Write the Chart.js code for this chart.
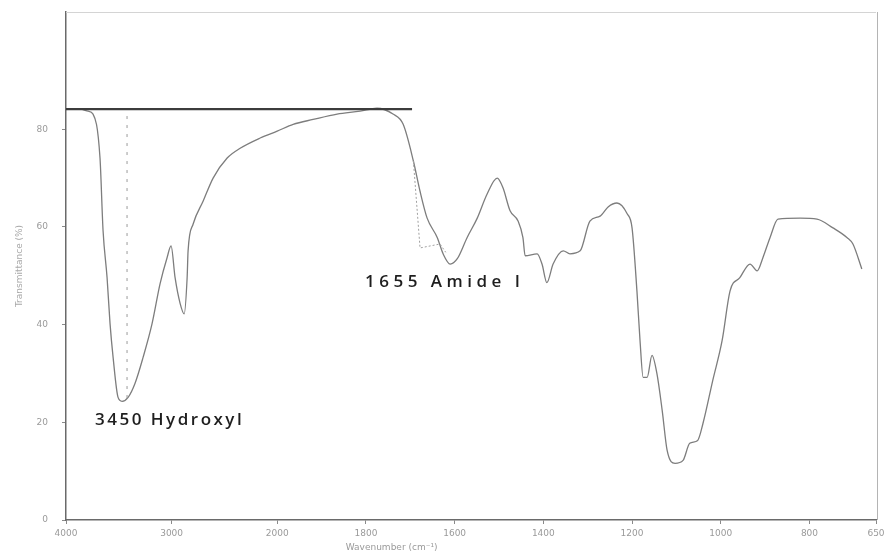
<!DOCTYPE html>
<html>
<head>
<meta charset="utf-8">
<script src="https://cdn.jsdelivr.net/npm/chart.js@4"></script>
<style>
  html, body { margin: 0; padding: 0; background: #fff; }
  #box { width: 885px; height: 560px; }
</style>
</head>
<body>
<div id="box"><canvas id="canva"></canvas></div>
<script>
// Datos del espectro (numero de onda en cm-1, transmitancia en %)
const numOnda = [4000,3867,3791,3744,3678,3649,3611,3583,3554,3507,3469,3412,3346,3270,3185,3109,3043,3005,2967,2919,2881,2853,2844,2796,2701,2607,2474,2351,2161,2000,1964,1919,1865,1813,1775,1739,1716,1693,1678,1662,1639,1626,1610,1594,1572,1549,1527,1504,1491,1475,1457,1446,1441,1414,1403,1392,1378,1355,1340,1317,1295,1272,1254,1234,1211,1200,1189,1182,1175,1166,1155,1144,1132,1121,1103,1085,1070,1052,1040,1018,997,979,957,934,918,905,889,871,821,783,747,715,702,682];
const transmitancia = [84.1,84.1,83.7,83.1,74.1,59.2,49.6,40.2,33.3,25.1,24.3,25.1,28.0,33.3,40.2,48.4,53.7,56.1,49.6,44.3,42.2,49.6,55.1,60.6,65.3,70.0,74.1,76.1,78.2,79.6,81.0,82.0,83.1,83.7,84.3,83.1,81.0,73.5,67.3,61.8,57.8,54.5,52.4,53.5,57.8,61.8,66.7,70.0,68.0,63.3,61.2,57.8,54.1,54.5,52.4,48.6,52.4,55.1,54.5,55.1,61.2,62.2,64.1,64.9,62.7,59.8,46.9,36.7,29.2,29.2,33.7,30.0,22.4,14.3,11.6,12.2,15.7,16.3,19.8,28.6,36.7,46.9,49.6,52.4,51.0,53.7,57.8,61.6,61.8,61.6,59.8,57.8,56.5,51.4];

// Linea base dibujada sobre el espectro
const baseOnda = [4000, 1696];
const baseTrans = [84.1, 84.1];

// Curva punteada (ajuste) cerca de la amida I
const ajusteOnda = [1693, 1678, 1633, 1620];
const ajusteTrans = [73.5, 55.7, 56.5, 54.8];

// Marca vertical en el hidroxilo
const marcaOnda = [3422, 3422];
const marcaTrans = [82.7, 24.5];

// Etiquetas del eje x (escala cambia en 2000 cm-1)
const ticksX = [4000, 3000, 2000, 1800, 1600, 1400, 1200, 1000, 800, 650];
const ticksY = [0, 20, 40, 60, 80];

// Anotaciones
const notas = [
  { texto: "3450 Hydroxyl", onda: 3725, trans: 20.4, espacio: 2.5 },
  { texto: "1655 Amide I", onda: 1802, trans: 48.6, espacio: 4.5 }
];

// El eje x esta expandido por debajo de 2000 cm-1
const FACTOR = 4.2;
function posicion(w) {
  return w >= 2000 ? (4000 - w) : 2000 + (2000 - w) * FACTOR;
}
function puntos(ondas, valores) {
  return ondas.map((w, i) => ({ x: posicion(w), y: valores[i] }));
}

// Marco superior y derecho del grafico
const pluginMarco = {
  id: "marco",
  beforeDatasetsDraw(chart) {
    const a = chart.chartArea;
    const ctx = chart.ctx;
    ctx.save();
    ctx.lineWidth = 1;
    ctx.strokeStyle = "#d4d4d4";
    ctx.beginPath();
    ctx.moveTo(a.left, a.top + 0.5);
    ctx.lineTo(a.right, a.top + 0.5);
    ctx.stroke();
    ctx.strokeStyle = "#b4b4b4";
    ctx.beginPath();
    ctx.moveTo(a.right + 1.5, a.top);
    ctx.lineTo(a.right + 1.5, a.bottom);
    ctx.stroke();
    ctx.restore();
  }
};

const pluginNotas = {
  id: "notas",
  afterDatasetsDraw(chart) {
    const ctx = chart.ctx;
    const sx = chart.scales.x, sy = chart.scales.y;
    ctx.save();
    ctx.font = "600 17px 'Open Sans', sans-serif";
    ctx.fillStyle = "#1e1e1e";
    ctx.textBaseline = "middle";
    ctx.textAlign = "left";
    notas.forEach((n) => {
      ctx.letterSpacing = n.espacio + "px";
      ctx.fillText(n.texto, sx.getPixelForValue(posicion(n.onda)), sy.getPixelForValue(n.trans));
    });
    // titulo del eje x, corrido a la izquierda como en el original
    ctx.letterSpacing = "0px";
    ctx.font = "9px 'DejaVu Sans'";
    ctx.fillStyle = "#9a9a9a";
    ctx.textAlign = "center";
    ctx.fillText("Wavenumber (cm⁻¹)", sx.getPixelForValue(posicion(2100)) + 125, chart.height - 12);
    ctx.restore();
  }
};

let grafico = new Chart(document.getElementById("canva").getContext("2d"), {
  type: "line",
  data: {
    datasets: [
      {
        label: "base",
        data: puntos(baseOnda, baseTrans),
        borderColor: "#3c3c3c",
        borderWidth: 2.2,
        pointRadius: 0,
        tension: 0
      },
      {
        label: "marca",
        data: puntos(marcaOnda, marcaTrans),
        borderColor: "#9a9a9a",
        borderWidth: 1,
        borderDash: [3, 6],
        pointRadius: 0
      },
      {
        label: "ajuste",
        data: puntos(ajusteOnda, ajusteTrans),
        borderColor: "#a0a0a0",
        borderWidth: 1,
        borderDash: [2, 2],
        pointRadius: 0
      },
      {
        label: "espectro",
        data: puntos(numOnda, transmitancia),
        borderColor: "#7d7d7d",
        borderWidth: 1.3,
        pointRadius: 0,
        tension: 0.3,
        cubicInterpolationMode: "monotone"
      }
    ]
  },
  options: {
    responsive: true,
    maintainAspectRatio: false,
    animation: false,
    layout: { padding: { top: 12, right: 9, left: 0, bottom: 0 } },
    plugins: { legend: { display: false }, tooltip: { enabled: false } },
    scales: {
      x: {
        type: "linear",
        min: 0,
        max: posicion(650),
        afterBuildTicks: (scale) => {
          scale.ticks = ticksX.map((w) => ({ value: posicion(w) }));
        },
        afterFit: (scale) => {
          scale.height = 40;
          scale.paddingLeft = 0;
          scale.paddingRight = 0;
        },
        ticks: {
          autoSkip: false,
          maxRotation: 0,
          color: "#9a9a9a",
          font: { size: 9, family: "'DejaVu Sans'" },
          padding: 4,
          callback: (v, i) => ticksX[i]
        },
        grid: { drawOnChartArea: false, tickLength: 4, color: "#8a8a8a" },
        border: { color: "#6a6a6a", width: 1.5 }
      },
      y: {
        min: 0,
        max: 104,
        afterBuildTicks: (scale) => {
          scale.ticks = ticksY.map((v) => ({ value: v }));
        },
        afterFit: (scale) => {
          scale.width = 66;
          scale.paddingTop = 0;
          scale.paddingBottom = 0;
        },
        ticks: {
          color: "#9a9a9a",
          font: { size: 9, family: "'DejaVu Sans'" },
          padding: 14
        },
        grid: { drawOnChartArea: false, tickLength: 4, color: "#8a8a8a" },
        border: { color: "#6a6a6a", width: 1.5 },
        title: {
          display: true,
          text: "Transmittance (%)",
          color: "#a8a8a8",
          font: { size: 9, family: "'DejaVu Sans'" },
          padding: { top: 14, bottom: 0 }
        }
      }
    }
  },
  plugins: [pluginMarco, pluginNotas]
});
</script>
</body>
</html>
